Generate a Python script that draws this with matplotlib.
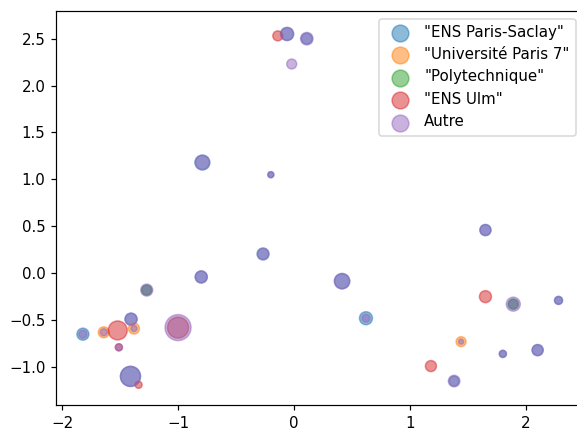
import numpy as np
import matplotlib
matplotlib.use("Agg")
import matplotlib.pyplot as plt

# positions of the points
x = [-1.82, -1.64, -1.52, -1.405, -1.38, -1.51, -1.27, -1.00, -1.41, -1.34,
     -0.79, -0.20, -0.267, -0.80, 0.414, -0.14, -0.06, 0.11, -0.02, 0.62,
     1.18, 1.65, 1.65, 1.89, 2.28, 1.44, 1.80, 2.10, 1.38]
y = [-0.65, -0.63, -0.61, -0.49, -0.59, -0.79, -0.18, -0.58, -1.10, -1.19,
     1.18, 1.05, 0.205, -0.04, -0.085, 2.53, 2.55, 2.50, 2.23, -0.48,
     -0.99, 0.46, -0.25, -0.33, -0.29, -0.73, -0.86, -0.82, -1.15]

# marker area (pt^2) for each school at each point
saclay = [64, 0, 0, 64, 0, 0, 44, 0, 178, 0,
          100, 16, 64, 64, 100, 0, 75, 54, 0, 75,
          0, 54, 0, 44, 28, 0, 22, 54, 44]
paris7 = [0, 54, 0, 0, 54, 0, 0, 0, 0, 0,
          0, 0, 0, 0, 0, 0, 0, 0, 0, 0,
          0, 0, 0, 0, 0, 44, 0, 0, 0]
polytechnique = [0, 0, 0, 0, 0, 0, 44, 0, 0, 0,
                 0, 0, 0, 0, 0, 0, 0, 0, 0, 0,
                 0, 0, 0, 44, 0, 0, 0, 0, 0]
ulm = [0, 0, 160, 0, 0, 22, 0, 196, 0, 22,
       0, 0, 0, 0, 0, 44, 0, 0, 0, 0,
       54, 0, 64, 0, 0, 0, 0, 0, 0]
autre = [28, 22, 0, 64, 16, 22, 64, 300, 178, 0,
         87, 16, 54, 64, 107, 0, 75, 69, 44, 28,
         0, 54, 0, 87, 28, 11, 22, 54, 59]

labels = ['"ENS Paris-Saclay"', '"Université Paris 7"', '"Polytechnique"', '"ENS Ulm"', 'Autre']
series = [saclay, paris7, polytechnique, ulm, autre]

fig = plt.figure(figsize=(577/108, 430/108), dpi=108)
ax = fig.add_axes([56/577, 25/430, 527/577, 394/430])

for s, lab in zip(series, labels):
    ax.scatter(x, y, s=s, alpha=0.5, label=lab)

ax.set_xlim(-2.052, 2.491)
ax.set_ylim(-1.405, 2.795)
ax.set_xticks([-2, -1, 0, 1, 2])

lgd = ax.legend(loc='upper right', handletextpad=0.6)
for h in lgd.legend_handles:
    h.set_sizes([125])

fig.savefig('out.png', dpi=108)
